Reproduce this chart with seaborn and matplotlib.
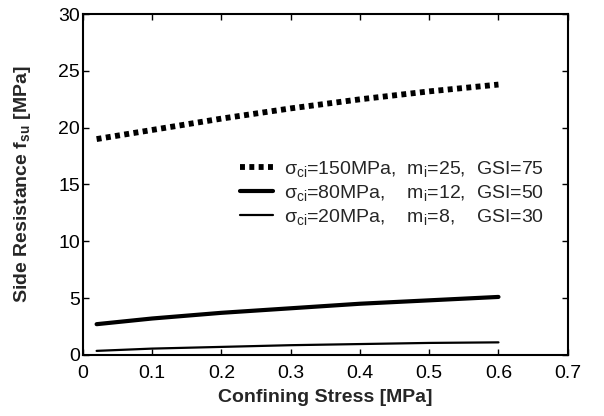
import matplotlib
matplotlib.use("Agg")
import matplotlib.pyplot as plt
import seaborn as sns
import pandas as pd

x_vals = [0.02, 0.1, 0.2, 0.3, 0.4, 0.5, 0.6]
s150 = [19.0, 19.8, 20.8, 21.7, 22.5, 23.2, 23.8]
s80 = [2.7, 3.2, 3.7, 4.1, 4.5, 4.8, 5.1]
s20 = [0.35, 0.55, 0.7, 0.85, 0.95, 1.05, 1.1]
labels = [r"$\sigma_{ci}$=150MPa,  m$_i$=25,  GSI=75",
          r"$\sigma_{ci}$=80MPa,    m$_i$=12,  GSI=50",
          r"$\sigma_{ci}$=20MPa,    m$_i$=8,    GSI=30"]
x_ticks = [0, 0.1, 0.2, 0.3, 0.4, 0.5, 0.6, 0.7]
y_ticks = [0, 5, 10, 15, 20, 25, 30]

sns.set_theme(style="white")
plt.rcParams['font.family'] = ['Liberation Sans', 'DejaVu Sans']
plt.rcParams['mathtext.fontset'] = 'custom'
plt.rcParams['mathtext.rm'] = 'Liberation Sans'
plt.rcParams['mathtext.it'] = 'Liberation Sans'
plt.rcParams['mathtext.bf'] = 'Liberation Sans:bold'
plt.rcParams['mathtext.default'] = 'regular'

df = pd.DataFrame({
    "x": x_vals * 3,
    "y": s150 + s80 + s20,
    "series": [labels[0]] * 7 + [labels[1]] * 7 + [labels[2]] * 7,
})

fig = plt.figure(figsize=(6.04, 4.16), dpi=100)
ax = fig.add_axes([0.137, 0.147, 0.803, 0.819])

styles = [dict(lw=4.2, ls=(0, (0.85, 0.75))), dict(lw=3.0, ls='-'), dict(lw=1.6, ls='-')]
for lab, st in zip(labels, styles):
    sub = df[df["series"] == lab]
    sns.lineplot(data=sub, x="x", y="y", ax=ax, color="black", label=lab,
                 linewidth=st["lw"], linestyle=st["ls"], dash_capstyle='butt')

ax.set_xlim(0, 0.7)
ax.set_ylim(0, 30)
ax.set_xticks(x_ticks)
ax.set_xticklabels([f"{t:g}" for t in x_ticks])
ax.set_yticks(y_ticks)
ax.set_yticklabels([str(t) for t in y_ticks])
ax.tick_params(direction='in', length=4, width=1, colors='black', labelsize=14,
               top=True, right=True, bottom=True, left=True)
ax.tick_params(axis='x', pad=7)
ax.tick_params(axis='y', pad=2)
for sp in ax.spines.values():
    sp.set_color('black')
    sp.set_linewidth(1.5)
ax.set_xlabel("Confining Stress [MPa]", fontsize=14, fontweight='bold', labelpad=5)
ax.set_ylabel(r"Side Resistance f$_{\mathbf{su}}$ [MPa]", fontsize=14, fontweight='bold', labelpad=18)

leg = ax.legend(loc='center left', bbox_to_anchor=(0.325, 0.475), fontsize=14,
                frameon=False, handlelength=1.7, handletextpad=0.55, labelspacing=0.2,
                borderpad=0, borderaxespad=0)
for h in leg.get_lines():
    h.set_color('black')

fig.savefig("out.png", dpi=100, facecolor='white')
